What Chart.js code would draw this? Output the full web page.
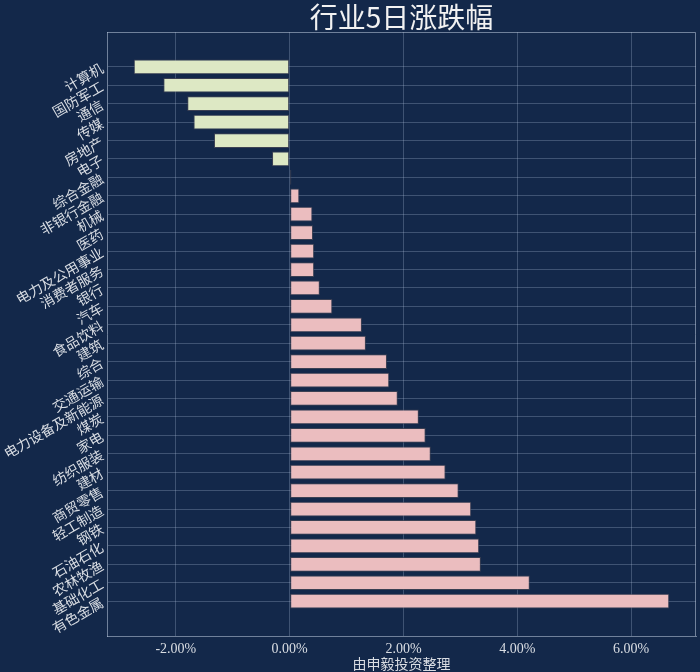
<!DOCTYPE html>
<html>
<head>
<meta charset="utf-8">
<script src="https://cdn.jsdelivr.net/npm/chart.js@4.4.1/dist/chart.umd.min.js"></script>
<style>
  html, body { margin: 0; padding: 0; background: #13284a; }
  #wrap { width: 700px; height: 672px; }
</style>
</head>
<body>
<div id="wrap"><canvas id="chart"></canvas></div>
<script>
// industries, top to bottom
const industries = ['计算机', '国防军工', '通信', '传媒', '房地产', '电子', '综合金融', '非银行金融', '机械', '医药',
  '电力及公用事业', '消费者服务', '银行', '汽车', '食品饮料', '建筑', '综合', '交通运输', '电力设备及新能源', '煤炭',
  '家电', '纺织服装', '建材', '商贸零售', '轻工制造', '钢铁', '石油石化', '农林牧渔', '基础化工', '有色金属'];

// 5-day change, %
const changes = [-2.74, -2.22, -1.80, -1.69, -1.33, -0.31, 0.03, 0.17, 0.40, 0.41,
  0.43, 0.43, 0.53, 0.75, 1.27, 1.34, 1.71, 1.75, 1.90, 2.27,
  2.39, 2.48, 2.74, 2.97, 3.19, 3.28, 3.33, 3.36, 4.22, 6.67];

const BG = '#13284a';
const UP = '#ebbdbf';
const DOWN = '#dde8c4';
const GRID = 'rgba(180,196,222,0.28)';
const FRAME = 'rgba(190,202,222,0.55)';
const TXT = '#d9dde3';

// top and right spines
const framePlugin = {
  id: 'frame',
  afterDraw(chart) {
    const { ctx, chartArea: a } = chart;
    ctx.save();
    ctx.strokeStyle = FRAME;
    ctx.lineWidth = 1;
    ctx.beginPath();
    ctx.moveTo(a.left, a.top + 0.5);
    ctx.lineTo(a.right - 0.5, a.top + 0.5);
    ctx.lineTo(a.right - 0.5, a.bottom);
    ctx.stroke();
    ctx.restore();
  }
};

const ctx = document.getElementById('chart').getContext('2d');
new Chart(ctx, {
  type: 'bar',
  data: {
    datasets: [{
      data: changes.map((v, i) => ({ x: v, y: i })),
      backgroundColor: changes.map(v => v < 0 ? DOWN : UP),
      borderColor: 'rgba(70,70,85,0.8)',
      borderWidth: 1,
      borderSkipped: false,
      categoryPercentage: 1,
      barPercentage: 0.8
    }]
  },
  options: {
    indexAxis: 'y',
    responsive: true,
    maintainAspectRatio: false,
    animation: false,
    layout: { padding: { right: 4 } },
    plugins: {
      legend: { display: false },
      tooltip: { enabled: false },
      title: {
        display: true,
        text: '行业5日涨跌幅',
        fullSize: false,
        color: '#f2f2f2',
        font: { family: "'Noto Sans CJK SC', sans-serif", size: 28, weight: 'normal', lineHeight: 1 },
        padding: { top: 3, bottom: 1 }
      }
    },
    scales: {
      x: {
        type: 'linear',
        min: -3.21,
        max: 7.14,
        z: 1,
        afterFit: s => { s.height = 36; },
        grid: { color: GRID, drawTicks: false },
        border: { display: true, color: FRAME },
        ticks: {
          stepSize: 2,
          includeBounds: false,
          padding: 5,
          color: TXT,
          font: { family: "'Liberation Serif', serif", size: 14 },
          callback: v => v.toFixed(2) + '%'
        },
        title: {
          display: true,
          text: '由申毅投资整理',
          color: TXT,
          padding: { top: 0, bottom: 0 },
          font: { family: "'Noto Sans CJK SC', sans-serif", size: 14 }
        }
      },
      y: {
        type: 'linear',
        reverse: true,
        offset: false,
        min: -1.89,
        max: 30.89,
        z: 1,
        afterFit: s => { s.width = 107; },
        grid: { color: GRID, drawTicks: false, offset: false },
        border: { display: true, color: FRAME },
        ticks: {
          stepSize: 1,
          includeBounds: false,
          autoSkip: false,
          maxTicksLimit: 100,
          minRotation: 30,
          maxRotation: 30,
          padding: 5,
          color: TXT,
          font: { family: "'Noto Sans CJK SC', sans-serif", size: 14 },
          callback: v => (Number.isInteger(v) && industries[v] !== undefined) ? industries[v] : null
        }
      }
    }
  },
  plugins: [framePlugin]
});
</script>
</body>
</html>
